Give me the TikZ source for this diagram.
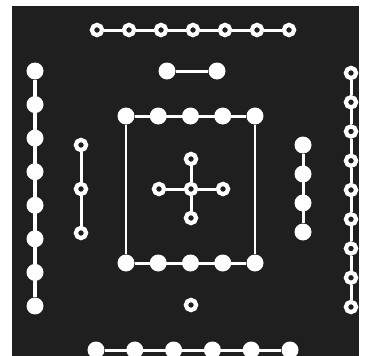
\documentclass[tikz,border=0pt]{standalone}
\begin{document}
\begin{tikzpicture}[x=1pt,y=-1pt,
  full/.style={circle,fill=white,draw=none,minimum size=17,inner sep=0pt},
  ring/.style={circle,fill=bgcol,draw=white,line width=4.2,minimum size=10.2,inner sep=0pt},
  wire/.style={draw=white,line width=3}]
\colorlet{bgcol}{black!88}
\useasboundingbox (0,0) rectangle (365,356);
\clip (0,0) rectangle (365,356);
\fill[bgcol] (12,6) rectangle (359,360);
% top row of rings
\foreach \i in {1,...,7}{\node[ring] (t\i) at ({97+32*(\i-1)},30) {};}
\foreach \i [evaluate=\i as \j using int(\i+1)] in {1,...,6}{\draw[wire] (t\i) -- (t\j);}
% pair
\node[full] (p1) at (167,71) {};
\node[full] (p2) at (217,71) {};
\draw[wire] (p1) -- (p2);
% left column
\foreach \i in {1,...,8}{\node[full] (l\i) at (35,{71+33.57*(\i-1)}) {};}
\draw[wire,line width=4] (l1) -- (l8);
% inner left column
\foreach \i in {1,...,3}{\node[ring] (a\i) at (81,{145+44*(\i-1)}) {};}
\draw[wire] (a1) -- (a2) (a2) -- (a3);
% square
\foreach \i in {1,...,5}{
  \node[full] (s\i) at ({126+32.25*(\i-1)},116) {};
  \node[full] (b\i) at ({126+32.25*(\i-1)},263) {};}
\draw[wire] (s1) -- (s5) (b1) -- (b5);
\draw[wire,line width=2.2] (s1) -- (b1) (s5) -- (b5);
% cross
\node[ring] (c0) at (191,189) {};
\node[ring] (cn) at (191,159) {};
\node[ring] (cs) at (191,218) {};
\node[ring] (cw) at (159,189) {};
\node[ring] (ce) at (223,189) {};
\draw[wire] (c0) -- (cn) (c0) -- (cs) (c0) -- (cw) (c0) -- (ce);
% inner right column
\foreach \i in {1,...,4}{\node[full] (r\i) at (303,{145+29*(\i-1)}) {};}
\draw[wire] (r1) -- (r4);
% right column of rings
\foreach \i in {1,...,9}{\node[ring] (q\i) at (351,{73+29.25*(\i-1)}) {};}
\foreach \i [evaluate=\i as \j using int(\i+1)] in {1,...,8}{\draw[wire] (q\i) -- (q\j);}
% single ring
\node[ring] (o) at (191,305) {};
% bottom row
\foreach \i in {1,...,6}{\node[full] (u\i) at ({96+38.8*(\i-1)},350) {};}
\draw[wire] (u1) -- (u6);
\end{tikzpicture}
\end{document}
